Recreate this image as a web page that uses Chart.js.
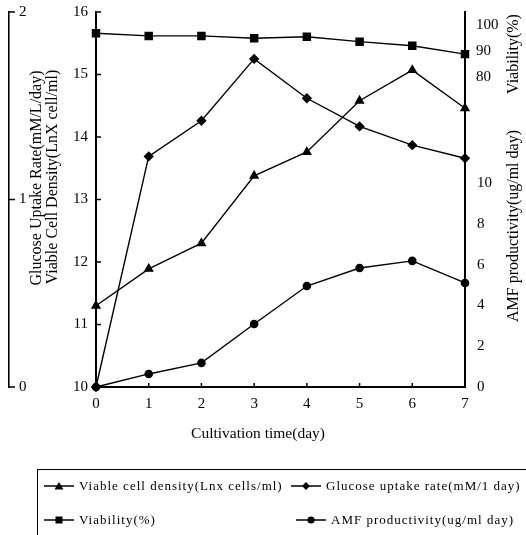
<!DOCTYPE html>
<html>
<head>
<meta charset="utf-8">
<script src="https://cdn.jsdelivr.net/npm/chart.js@4.4.1/dist/chart.umd.min.js"></script>
<style>
  html, body { margin: 0; padding: 0; background: #fff; }
  #wrap { position: relative; width: 526px; height: 535px; overflow: hidden; }
  #legend { position: absolute; left: 37px; top: 469px; width: 540px; height: 90px;
            border-top: 1px solid #000; border-left: 1px solid #000;
            font-family: "Liberation Serif", serif; font-size: 13px; letter-spacing: 1px; color: #000; }
  .item { position: absolute; display: flex; align-items: center; white-space: nowrap; }
  .item svg { margin-right: 5px; }
</style>
</head>
<body>
<div id="wrap">
  <canvas id="chart" width="526" height="535"></canvas>
  <div id="legend"></div>
</div>
<script>
// days of cultivation
var days = [0, 1, 2, 3, 4, 5, 6, 7]
// values
var viableDensity = [11.30, 11.89, 12.30, 13.38, 13.76, 14.58, 15.07, 14.46]
var glucoseRate = [0, 1.23, 1.42, 1.75, 1.54, 1.39, 1.29, 1.22]
var viability = [96.8, 95.8, 95.8, 94.9, 95.5, 93.6, 92.0, 88.8]
var amfProd = [0, 0.64, 1.18, 3.09, 4.95, 5.83, 6.18, 5.10]

// tick labels
var densityTicks = [10, 11, 12, 13, 14, 15, 16]
var glucoseTicks = [0, 1, 2]
var viabilityTicks = [80, 90, 100]
var amfTicks = [0, 2, 4, 6, 8, 10]

var legendLabels = [
    "Viable cell density(Lnx cells/ml)",
    "Glucose uptake rate(mM/1 day)",
    "Viability(%)",
    "AMF productivity(ug/ml day)"
]
var markers = ['triangle', 'rectRot', 'rect', 'circle']

function pts(arr) {
    return days.map(function (d, i) { return { x: d, y: arr[i] } })
}

var tickFont = { family: '"Liberation Serif", serif', size: 15 }
var serif = '"Liberation Serif", serif'

// inward tick marks + axis titles
var axisExtras = {
    id: 'axisExtras',
    afterDraw: function (chart) {
        var ctx = chart.ctx, s = chart.scales, a = chart.chartArea
        ctx.save()
        ctx.strokeStyle = '#000'
        ctx.lineWidth = 1.5
        function seg(x1, y1, x2, y2) { ctx.beginPath(); ctx.moveTo(x1, y1); ctx.lineTo(x2, y2); ctx.stroke() }
        days.forEach(function (d) { var x = s.x.getPixelForValue(d); seg(x, a.bottom, x, a.bottom - 4) })
        densityTicks.forEach(function (v) { var y = s.y.getPixelForValue(v); seg(a.left, y, a.left + 5, y) })
        glucoseTicks.forEach(function (v) { var y = s.yG.getPixelForValue(v); seg(s.yG.right, y, s.yG.right + 6, y) })

        ctx.fillStyle = '#000'
        ctx.textAlign = 'center'
        ctx.textBaseline = 'middle'
        ctx.font = '15.5px ' + serif
        ctx.fillText('Cultivation time(day)', 258, 434)

        function vtext(t, x, y) {
            ctx.save(); ctx.translate(x, y); ctx.rotate(-Math.PI / 2); ctx.fillText(t, 0, 0); ctx.restore()
        }
        ctx.font = '16px ' + serif
        vtext('Glucose Uptake Rate(mM/L/day)', 37, 178)
        vtext('Viable Cell Density(LnX cell/ml)', 53, 177)
        vtext('Viability(%)', 514, 54)
        vtext('AMF productivity(ug/ml day)', 514, 226)
        ctx.restore()
    }
}

var datasets = [viableDensity, glucoseRate, viability, amfProd].map(function (arr, i) {
    return {
        label: legendLabels[i],
        data: pts(arr),
        yAxisID: ['y', 'yG', 'yV', 'yA'][i],
        pointStyle: markers[i],
        pointRadius: [4.5, 4.2, 5, 3.6][i],
        borderColor: '#000',
        backgroundColor: '#000',
        pointBackgroundColor: '#000',
        pointBorderColor: '#000',
        borderWidth: 1.4,
        tension: 0,
        clip: false
    }
})

function onlyTicks(list) {
    return function (scale) { scale.ticks = list.map(function (v) { return { value: v } }) }
}
// fixed box size, no extra room for label overflow
function fixSize(w, h) {
    return function (s) {
        if (w !== null) s.width = w
        if (h !== null) s.height = h
        s.paddingTop = 0; s.paddingBottom = 0; s.paddingLeft = 0; s.paddingRight = 0
    }
}

var chart = new Chart(document.getElementById('chart'), {
    type: 'line',
    data: { datasets: datasets },
    options: {
        responsive: false,
        animation: false,
        layout: { padding: { top: 12, bottom: 88, left: 0, right: 0 } },
        plugins: { legend: { display: false }, tooltip: { enabled: false } },
        scales: {
            x: {
                type: 'linear', min: 0, max: 7, position: 'bottom',
                ticks: { stepSize: 1, padding: 8, color: '#000', font: tickFont, maxRotation: 0 },
                grid: { display: false, drawTicks: false },
                border: { color: '#000', width: 2 },
                afterFit: fixSize(null, 60)
            },
            y: {
                position: 'left', min: 10, max: 16, weight: 0,
                afterBuildTicks: onlyTicks(densityTicks),
                ticks: { padding: 8, color: '#000', font: tickFont },
                grid: { display: false, drawTicks: false },
                border: { color: '#000', width: 2 },
                afterFit: fixSize(87, null)
            },
            yG: {
                position: 'left', min: 0, max: 2, weight: 1,
                afterBuildTicks: onlyTicks(glucoseTicks),
                ticks: { mirror: true, padding: 10, color: '#000', font: tickFont },
                grid: { display: false, drawTicks: false },
                border: { color: '#000', width: 1.6 },
                afterFit: fixSize(9, null)
            },
            // shares the right axis line with viability, so it takes no room of its own
            yA: {
                position: 'right', min: 0, max: 18.38, weight: 0,
                afterBuildTicks: onlyTicks(amfTicks),
                ticks: { mirror: true, crossAlign: 'far', padding: 27, color: '#000', font: tickFont },
                grid: { display: false, drawTicks: false },
                border: { color: '#000', width: 2 },
                afterFit: fixSize(0, null)
            },
            yV: {
                position: 'right', min: -39.23, max: 105, weight: 1,
                afterBuildTicks: onlyTicks(viabilityTicks),
                ticks: { padding: 11, color: '#000', font: tickFont },
                grid: { display: false, drawTicks: false },
                border: { color: '#000', width: 2 },
                afterFit: fixSize(61, null)
            }
        }
    },
    plugins: [axisExtras]
})

// legend in html, built from the datasets
function markerSvg(style) {
    var shape
    if (style === 'triangle') shape = '<polygon points="15,1 19.5,8.5 10.5,8.5" fill="#000"/>'
    else if (style === 'rectRot') shape = '<polygon points="15,1 19,5 15,9 11,5" fill="#000"/>'
    else if (style === 'rect') shape = '<rect x="11.5" y="1.5" width="7" height="7" fill="#000"/>'
    else shape = '<circle cx="15" cy="5" r="3.6" fill="#000"/>'
    return '<svg width="30" height="10"><line x1="0" y1="5" x2="30" y2="5" stroke="#000" stroke-width="1.5"/>' + shape + '</svg>'
}
var legendLeft = [6, 253, 6, 258]
var legendTop = [8, 8, 42, 42]
var legend = document.getElementById('legend')
chart.data.datasets.forEach(function (ds, i) {
    var el = document.createElement('div')
    el.className = 'item'
    el.style.left = legendLeft[i] + 'px'
    el.style.top = legendTop[i] + 'px'
    el.innerHTML = markerSvg(ds.pointStyle) + '<span>' + ds.label + '</span>'
    legend.appendChild(el)
})
</script>
</body>
</html>
